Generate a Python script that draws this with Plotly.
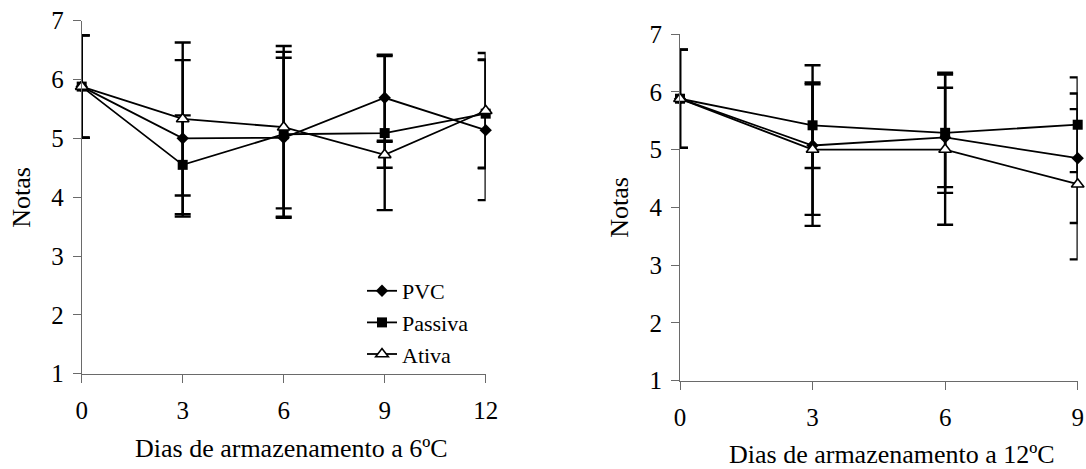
import plotly.graph_objects as go

W, H = 1086, 469

# ---- data: storage at 6 ºC ----
days_6 = [0, 3, 6, 9, 12]
pvc_6 = [5.88, 5.00, 5.01, 5.69, 5.14]
pvc_6_err = [0.87, 1.33, 1.36, 0.73, 1.19]
passiva_6 = [5.88, 4.55, 5.07, 5.09, 5.42]
passiva_6_err = [0.87, 0.84, 1.40, 1.31, 0.92]
ativa_6 = [5.88, 5.33, 5.19, 4.72, 5.47]
ativa_6_err = [0.87, 1.30, 1.38, 0.22, 0.98]

# ---- data: storage at 12 ºC ----
days_12 = [0, 3, 6, 9]
pvc_12 = [5.88, 5.07, 5.21, 4.85]
pvc_12_err = [0.85, 1.39, 0.86, 1.12]
passiva_12 = [5.88, 5.42, 5.29, 5.43]
passiva_12_err = [0.85, 0.74, 1.04, 0.82]
ativa_12 = [5.88, 5.00, 5.00, 4.40]
ativa_12_err = [0.85, 1.13, 1.30, 1.30]

series_names = ["PVC", "Passiva", "Ativa"]
y_ticks = [1, 2, 3, 4, 5, 6, 7]
x_title_6 = "Dias de armazenamento a 6ºC"
x_title_12 = "Dias de armazenamento a 12ºC"
y_title = "Notas"

FONT = "Liberation Serif, Times New Roman, serif"
AX = "#6a6a6a"

markers = [
    dict(symbol="diamond", size=9.5, color="black", line=dict(width=0)),
    dict(symbol="square", size=10, color="black", line=dict(width=0)),
    dict(symbol="triangle-up", size=11, color="white", line=dict(width=1.6, color="black")),
]

fig = go.Figure()

def add_panel(days, vals, errs, xa, ya, legend):
    for name, v, e, m in zip(series_names, vals, errs, markers):
        fig.add_trace(go.Scatter(
            x=days, y=v, name=name, mode="lines+markers",
            xaxis=xa, yaxis=ya, showlegend=legend, cliponaxis=False,
            line=dict(color="black", width=1.8),
            marker=m,
            error_y=dict(type="data", array=e, visible=True,
                         color="black", thickness=2.4, width=8),
        ))

add_panel(days_6, [pvc_6, passiva_6, ativa_6],
          [pvc_6_err, passiva_6_err, ativa_6_err], "x", "y", True)
add_panel(days_12, [pvc_12, passiva_12, ativa_12],
          [pvc_12_err, passiva_12_err, ativa_12_err], "x2", "y2", False)

def px(v):
    return v / W

def py(v):
    return 1 - v / H

common_x = dict(showline=True, linecolor=AX, linewidth=1, ticks="outside",
                ticklen=8, tickcolor=AX, tickwidth=1, showgrid=False,
                zeroline=False, automargin=False,
                tickfont=dict(family=FONT, size=25, color="black"),
                ticklabelstandoff=6)
common_y = dict(showline=True, linecolor=AX, linewidth=1, ticks="outside",
                ticklen=8, tickcolor=AX, tickwidth=1, showgrid=False,
                zeroline=False, automargin=False, range=[1, 7],
                tickvals=y_ticks,
                tickfont=dict(family=FONT, size=25, color="black"),
                ticklabelstandoff=4)

fig.update_layout(
    width=W, height=H, margin=dict(l=0, r=0, t=0, b=0),
    paper_bgcolor="white", plot_bgcolor="white", template="none",
    font=dict(family=FONT, color="black"),
    xaxis=dict(domain=[px(81.7), px(485.7)], range=[0, 12], tickvals=days_6,
               anchor="y", **common_x),
    yaxis=dict(domain=[py(373.7), py(20.7)], anchor="x", **common_y),
    xaxis2=dict(domain=[px(680), px(1077.7)], range=[0, 9], tickvals=days_12,
                anchor="y2", **common_x),
    yaxis2=dict(domain=[py(380.7), py(34)], anchor="x2", **common_y),
    legend=dict(x=px(362), y=py(270), xanchor="left", yanchor="top",
                bgcolor="rgba(0,0,0,0)", borderwidth=0, tracegroupgap=0,
                font=dict(family=FONT, size=22, color="black")),
    annotations=[
        dict(text=y_title, x=px(20.7), y=py(197), xref="paper", yref="paper",
             showarrow=False, textangle=-90, xanchor="center", yanchor="middle",
             font=dict(family=FONT, size=26, color="black")),
        dict(text=y_title, x=px(618.8), y=py(207), xref="paper", yref="paper",
             showarrow=False, textangle=-90, xanchor="center", yanchor="middle",
             font=dict(family=FONT, size=26, color="black")),
        dict(text=x_title_6, x=px(291), y=py(448), xref="paper", yref="paper",
             showarrow=False, xanchor="center", yanchor="middle",
             font=dict(family=FONT, size=26, color="black")),
        dict(text=x_title_12, x=px(892), y=py(454), xref="paper", yref="paper",
             showarrow=False, xanchor="center", yanchor="middle",
             font=dict(family=FONT, size=26, color="black")),
    ],
)

fig.write_html(
    "out.html",
    config={"displayModeBar": False},
    post_script="document.body.style.margin='0';document.body.style.overflow='hidden';",
)
